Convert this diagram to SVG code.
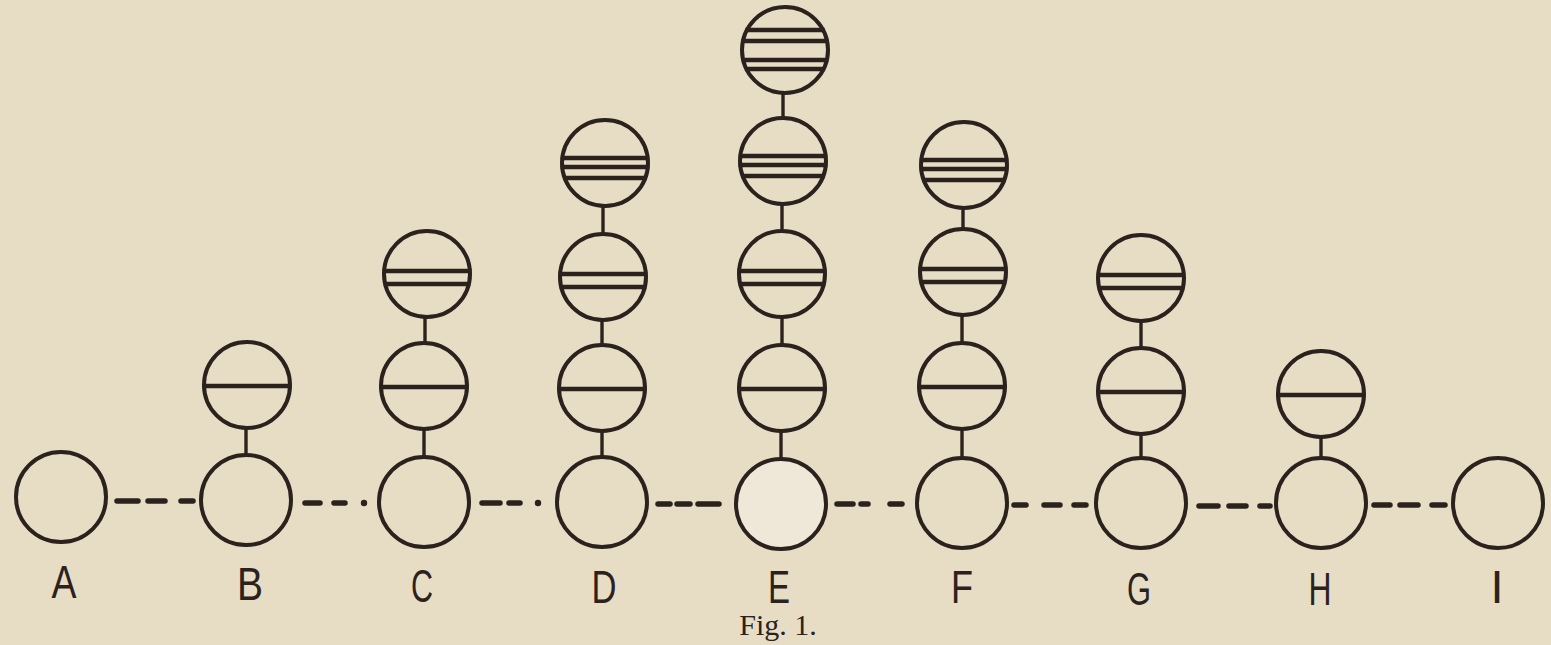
<svg xmlns="http://www.w3.org/2000/svg" xmlns:xlink="http://www.w3.org/1999/xlink" width="1551" height="645" viewBox="0 0 1551 645">
<style>
.c{fill:none;stroke:#2b221e;stroke-width:4}
.l{stroke:#2b221e;stroke-width:4.4}
.v{stroke:#2b221e;stroke-width:3.4}
.d{stroke:#2b221e;stroke-width:5.5;stroke-linecap:round}
.dot{fill:#2b221e}
.lab{font-family:"Liberation Sans",Arial,sans-serif;font-size:47px;fill:#2b221e;text-anchor:middle}
.cap{font-family:"Liberation Serif","Times New Roman",serif;font-size:30px;fill:#2b221e;text-anchor:middle}
</style>
<defs>
<g id="lv1"><circle class="c" cx="0" cy="0" r="45"/></g>
<g id="lv2"><circle class="c" cx="0" cy="0" r="43"/><line class="l" x1="-44.5" y1="1" x2="44.5" y2="1"/></g>
<g id="lv3"><circle class="c" cx="0" cy="0" r="43"/><line class="l" x1="-44.4" y1="-3" x2="44.4" y2="-3"/><line class="l" x1="-43.3" y1="10" x2="43.3" y2="10"/></g>
<g id="lv4"><circle class="c" cx="0" cy="0" r="43"/><line class="l" x1="-44.2" y1="-5" x2="44.2" y2="-5"/><line class="l" x1="-44.3" y1="4" x2="44.3" y2="4"/><line class="l" x1="-41.8" y1="15" x2="41.8" y2="15"/></g>
<g id="lv5"><circle class="c" cx="0" cy="0" r="43"/><line class="l" x1="-39.6" y1="-20" x2="39.6" y2="-20"/><line class="l" x1="-43.5" y1="-9" x2="43.5" y2="-9"/><line class="l" x1="-43.3" y1="10" x2="43.3" y2="10"/><line class="l" x1="-40.1" y1="19" x2="40.1" y2="19"/></g>
</defs>
<rect x="0" y="0" width="1551" height="645" fill="#e7dcc4"/>

<g id="connectors">
<line class="v" x1="246" y1="428" x2="246" y2="455"/>
<line class="v" x1="425" y1="317" x2="425" y2="343"/>
<line class="v" x1="424" y1="429" x2="424" y2="457"/>
<line class="v" x1="603" y1="206" x2="603" y2="234"/>
<line class="v" x1="602" y1="320" x2="602" y2="345"/>
<line class="v" x1="602" y1="431" x2="602" y2="457"/>
<line class="v" x1="783" y1="93" x2="783" y2="118"/>
<line class="v" x1="782" y1="204" x2="782" y2="231"/>
<line class="v" x1="782" y1="317" x2="782" y2="345"/>
<line class="v" x1="781" y1="431" x2="781" y2="459"/>
<line class="v" x1="963" y1="208" x2="963" y2="229"/>
<line class="v" x1="962" y1="315" x2="962" y2="343"/>
<line class="v" x1="962" y1="429" x2="962" y2="458"/>
<line class="v" x1="1141" y1="321" x2="1141" y2="348"/>
<line class="v" x1="1141" y1="434" x2="1141" y2="458"/>
<line class="v" x1="1321" y1="437" x2="1321" y2="458"/>

<line class="d" x1="117" y1="501" x2="138" y2="501"/>
<line class="d" x1="148" y1="501" x2="165" y2="501"/>
<line class="d" x1="181" y1="501" x2="193" y2="501"/>

<line class="d" x1="305" y1="503" x2="320" y2="503"/>
<line class="d" x1="334" y1="503" x2="345" y2="503"/>
<circle class="dot" cx="364" cy="503" r="3.2"/>

<line class="d" x1="482" y1="503" x2="500" y2="503"/>
<line class="d" x1="509" y1="503" x2="520" y2="503"/>
<circle class="dot" cx="538" cy="503" r="3.2"/>

<line class="d" x1="658" y1="504" x2="670" y2="504"/>
<line class="d" x1="677" y1="504" x2="690" y2="504"/>
<line class="d" x1="698" y1="504" x2="719" y2="504"/>

<line class="d" x1="837" y1="504" x2="853" y2="504"/>
<line class="d" x1="861" y1="504" x2="868" y2="504"/>
<line class="d" x1="890" y1="504" x2="902" y2="504"/>

<line class="d" x1="1014" y1="505" x2="1026" y2="505"/>
<line class="d" x1="1044" y1="505" x2="1060" y2="505"/>
<line class="d" x1="1074" y1="505" x2="1086" y2="505"/>

<line class="d" x1="1199" y1="506" x2="1218" y2="506"/>
<line class="d" x1="1229" y1="506" x2="1246" y2="506"/>
<line class="d" x1="1260" y1="506" x2="1270" y2="506"/>

<line class="d" x1="1374" y1="505" x2="1390" y2="505"/>
<line class="d" x1="1400" y1="505" x2="1418" y2="505"/>
<line class="d" x1="1432" y1="505" x2="1445" y2="505"/>
</g>

<g id="A1"><use xlink:href="#lv1" x="61" y="497"/></g>
<g id="B1"><use xlink:href="#lv1" x="246" y="500"/></g>
<g id="B2"><use xlink:href="#lv2" x="247" y="385"/></g>
<g id="C1"><use xlink:href="#lv1" x="424" y="502"/></g>
<g id="C2"><use xlink:href="#lv2" x="424" y="386"/></g>
<g id="C3"><use xlink:href="#lv3" x="427" y="274"/></g>
<g id="D1"><use xlink:href="#lv1" x="602" y="502"/></g>
<g id="D2"><use xlink:href="#lv2" x="602" y="388"/></g>
<g id="D3"><use xlink:href="#lv3" x="603" y="277"/></g>
<g id="D4"><use xlink:href="#lv4" x="605" y="163"/></g>
<g id="E1"><circle cx="781" cy="504" r="45" fill="#efe8d8"/><use xlink:href="#lv1" x="781" y="504"/></g>
<g id="E2"><use xlink:href="#lv2" x="782" y="388"/></g>
<g id="E3"><use xlink:href="#lv3" x="782" y="274"/></g>
<g id="E4"><use xlink:href="#lv4" x="783" y="161"/></g>
<g id="E5"><use xlink:href="#lv5" x="785" y="50"/></g>
<g id="F1"><use xlink:href="#lv1" x="962" y="503"/></g>
<g id="F2"><use xlink:href="#lv2" x="962" y="386"/></g>
<g id="F3"><use xlink:href="#lv3" x="963" y="272"/></g>
<g id="F4"><use xlink:href="#lv4" x="964" y="165"/></g>
<g id="G1"><use xlink:href="#lv1" x="1141" y="503"/></g>
<g id="G2"><use xlink:href="#lv2" x="1141" y="391"/></g>
<g id="G3"><use xlink:href="#lv3" x="1141" y="278"/></g>
<g id="H1"><use xlink:href="#lv1" x="1321" y="503"/></g>
<g id="H2"><use xlink:href="#lv2" x="1321" y="394"/></g>
<g id="I1"><use xlink:href="#lv1" x="1498" y="503"/></g>

<g id="labels">
<text class="lab" x="64" y="598" textLength="25" lengthAdjust="spacingAndGlyphs">A</text>
<text class="lab" x="250" y="600" textLength="26" lengthAdjust="spacingAndGlyphs">B</text>
<text class="lab" x="422" y="602" textLength="22" lengthAdjust="spacingAndGlyphs">C</text>
<text class="lab" x="604" y="603" textLength="25" lengthAdjust="spacingAndGlyphs">D</text>
<text class="lab" x="779" y="603" textLength="22" lengthAdjust="spacingAndGlyphs">E</text>
<text class="lab" x="962" y="603" textLength="22" lengthAdjust="spacingAndGlyphs">F</text>
<text class="lab" x="1139" y="605" textLength="24" lengthAdjust="spacingAndGlyphs">G</text>
<text class="lab" x="1320" y="605" textLength="23" lengthAdjust="spacingAndGlyphs">H</text>
<text class="lab" x="1497" y="603">I</text>
</g>
<text class="cap" x="778" y="635">Fig. 1.</text>
</svg>
